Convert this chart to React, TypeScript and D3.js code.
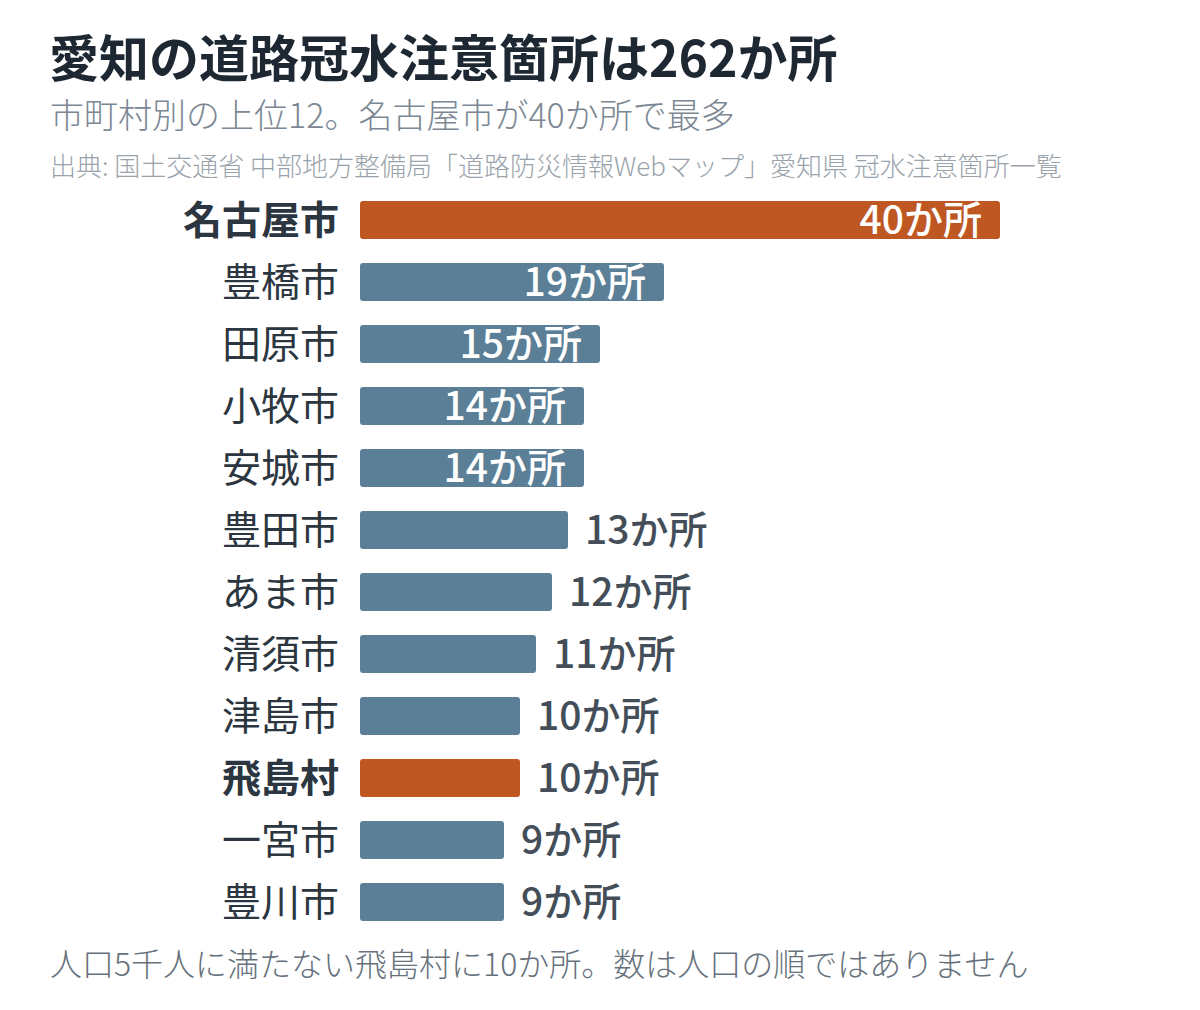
import React, { useEffect, useRef } from 'react'
import * as d3 from 'd3'

// 愛知県 道路冠水注意箇所 市町村別上位12
const cities = ['名古屋市', '豊橋市', '田原市', '小牧市', '安城市', '豊田市', 'あま市', '清須市', '津島市', '飛島村', '一宮市', '豊川市']
const counts = [40, 19, 15, 14, 14, 13, 12, 11, 10, 10, 9, 9]
const highlighted = ['名古屋市', '飛島村']

const title = '愛知の道路冠水注意箇所は262か所'
const subtitle = '市町村別の上位12。名古屋市が40か所で最多'
const source = '出典: 国土交通省 中部地方整備局「道路防災情報Webマップ」愛知県 冠水注意箇所一覧'
const note = '人口5千人に満たない飛島村に10か所。数は人口の順ではありません'

const FONT = '"Noto Sans CJK JP", "Noto Sans", sans-serif'

const App = () => {
  const width = 1200
  const height = 1010
  const refSvg = useRef<SVGSVGElement>(null)

  const draw = () => {
    const svg = d3.select(refSvg.current)
    svg.selectAll('*').remove()
    svg.style('font-family', FONT)

    const rows = cities.map((c, i) => ({ city: c, count: counts[i] }))

    const x = d3.scaleLinear().domain([0, 40]).range([360, 1000])
    const y = d3
      .scaleBand()
      .domain(cities)
      .range([189, 189 + 12 * 62])
      .paddingInner(0.387)
      .paddingOuter(0.1935)

    svg.append('text').attr('x', 49).attr('y', 77).attr('font-size', 50).attr('font-weight', 700).attr('fill', '#1d2833').text(title)
    svg.append('text').attr('x', 50).attr('y', 128).attr('font-size', 34).attr('font-weight', 300).attr('fill', '#7b8793').text(subtitle)
    svg.append('text').attr('x', 50).attr('y', 176).attr('font-size', 26).attr('font-weight', 300).attr('fill', '#9aa3ab').text(source)

    const g = svg.append('g')

    g.selectAll('rect')
      .data(rows)
      .enter()
      .append('rect')
      .attr('x', x(0))
      .attr('y', (d) => y(d.city) as number)
      .attr('width', (d) => x(d.count) - x(0))
      .attr('height', y.bandwidth())
      .attr('rx', 3)
      .attr('fill', (d) => (highlighted.includes(d.city) ? '#bf5722' : '#5b7f96'))

    g.selectAll('text.cat')
      .data(rows)
      .enter()
      .append('text')
      .attr('class', 'cat')
      .attr('x', 339)
      .attr('y', (d) => (y(d.city) as number) + y.bandwidth() / 2)
      .attr('dy', '0.36em')
      .attr('text-anchor', 'end')
      .attr('font-size', 39)
      .attr('font-weight', (d) => (highlighted.includes(d.city) ? 700 : 400))
      .attr('fill', '#2b3640')
      .text((d) => d.city)

    g.selectAll('text.val')
      .data(rows)
      .enter()
      .append('text')
      .attr('class', 'val')
      .attr('x', (d) => (d.count >= 14 ? x(d.count) - 18 : x(d.count) + 17))
      .attr('y', (d) => (y(d.city) as number) + y.bandwidth() / 2)
      .attr('dy', '0.36em')
      .attr('text-anchor', (d) => (d.count >= 14 ? 'end' : 'start'))
      .attr('font-size', 39)
      .attr('font-weight', 500)
      .attr('fill', (d) => (d.count >= 14 ? '#ffffff' : '#434e59'))
      .text((d) => `${d.count}か所`)

    svg.append('text').attr('x', 50).attr('y', 976).attr('font-size', 32).attr('font-weight', 300).attr('fill', '#66717c').text(note)
  }

  useEffect(() => {
    if (refSvg) {
      draw()
    }
  })

  return (
    <svg
      ref={refSvg}
      width={width}
      height={height}
      style={{ position: 'absolute', left: 0, top: 0, background: '#ffffff' }}
    />
  )
}

export default App
